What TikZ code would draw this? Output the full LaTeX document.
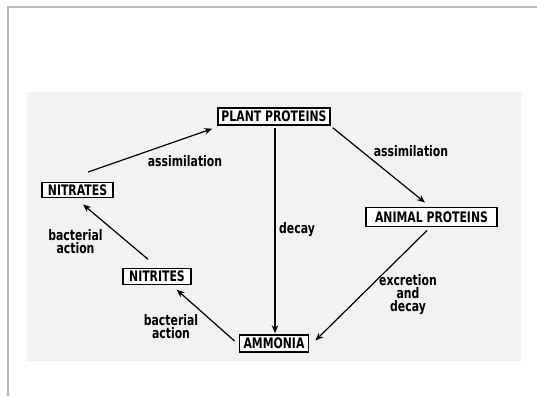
\documentclass[tikz,border=0pt]{standalone}
\usepackage{fontspec}
\newfontfamily\lettering{DejaVu Sans}[FakeStretch=0.75]
\usetikzlibrary{arrows.meta,calc}
\begin{document}
\begin{tikzpicture}[x=1pt,y=1pt,
  conc/.style={draw=black, line width=1.4pt, inner sep=0pt, fill=white,
    font=\lettering\bfseries\fontsize{14.5}{13}\selectfont},
  lbl/.style={inner sep=0pt, align=center,
    font=\lettering\bfseries\fontsize{14.5}{13}\selectfont},
  flow/.style={draw=black, line width=1.2pt, -{Stealth[length=8pt,width=6.5pt]}}]
\useasboundingbox (0,0) rectangle (537,396);
\fill[black!5] (27,35) rectangle (521,304);
\draw[black!28, line width=1.5pt] (8,0) -- (8,389) -- (537,389);

\node[conc, minimum width=112pt, minimum height=17pt] (plant) at (274,279.5) {PLANT PROTEINS};
\node[conc, minimum width=71pt, minimum height=15.5pt] (nitrates) at (77.5,206) {NITRATES};
\node[conc, minimum width=131pt, minimum height=18.5pt] (animal) at (431.5,179) {ANIMAL PROTEINS};
\node[conc, minimum width=68pt, minimum height=16pt] (nitrites) at (157,119.5) {NITRITES};
\node[conc, minimum width=69.5pt, minimum height=17pt] (ammonia) at (274,52.5) {AMMONIA};

\draw[flow] ($(nitrates.north)+(10.5,9.5)$) -- ($(plant.south west)+(-5,-3)$);
\draw[flow] ($(plant.south east)+(2,-2)$) -- ($(animal.north)+(-6.5,4.5)$);
\draw[flow] ($(plant.south)+(1,-2)$) -- ($(ammonia.north)+(1,1)$);
\draw[flow] ($(animal.south)+(-4.5,-3.5)$) -- ($(ammonia.east)+(6,3)$);
\draw[flow] ($(ammonia.west)+(-4,2.5)$) -- ($(nitrites.south east)+(-15,-4.5)$);
\draw[flow] ($(nitrites.north)+(-9,8.5)$) -- ($(nitrates.south)+(5.5,-6)$);

\node[lbl, anchor=base] (l1) at (185,229) {assimilation};
\node[lbl, anchor=base] (l2) at (411,239) {assimilation};
\node[lbl, anchor=base] (l3) at (297,162) {decay};
\node[lbl, anchor=base] (l4) at (75.5,142) {bacterial\\action};
\node[lbl, anchor=base] (l5) at (171,57.5) {bacterial\\action};
\node[lbl, anchor=base] (l6) at (408,84.5) {excretion\\and\\decay};
\end{tikzpicture}
\end{document}
